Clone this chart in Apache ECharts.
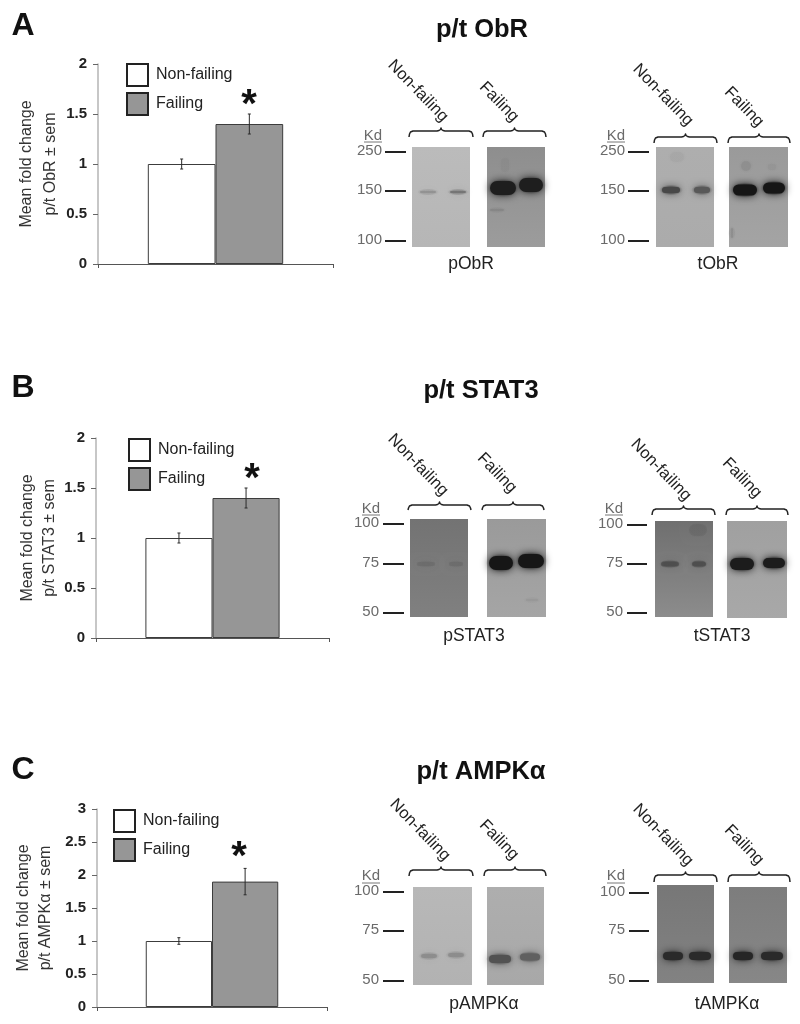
<!DOCTYPE html>
<html><head><meta charset="utf-8">
<style>html,body{margin:0;padding:0;background:#fff}#c{width:800px;height:1024px}</style>
<script src="https://cdn.jsdelivr.net/npm/echarts@6/dist/echarts.min.js"></script>
</head><body><div id="c"></div>
<script>
const groups = ['Non-failing', 'Failing'];
const meansA = [1, 1.4];
const semA = [0.05, 0.1];
const meansB = [1, 1.4];
const semB = [0.05, 0.1];
const meansC = [1, 1.9];
const semC = [0.05, 0.2];
const maxAB = 2;
const maxC = 3;
const titles = ['p/t ObR', 'p/t STAT3', 'p/t AMPK\u03b1'];
const letters = ['A', 'B', 'C'];
const yNames = ['Mean fold change\np/t ObR \u00b1 sem', 'Mean fold change\np/t STAT3 \u00b1 sem', 'Mean fold change\np/t AMPK\u03b1 \u00b1 sem'];
const kdA = ['250', '150', '100'];
const kdBC = ['100', '75', '50'];
const blotNames = ['pObR', 'tObR', 'pSTAT3', 'tSTAT3', 'pAMPK\u03b1', 'tAMPK\u03b1'];

const FONT = '"Liberation Sans", Arial, sans-serif';
const panels = [
  {grid:{left:98,top:64,width:235,height:200,outerBoundsMode:'none'},m:meansA,s:semA,max:maxAB,gap:32,lh:24,legend:{left:126,top:63},title:[482,30],letter:[23,26],star:[249,106]},
  {grid:{left:96,top:438,width:233,height:200,outerBoundsMode:'none'},m:meansB,s:semB,max:maxAB,gap:27,lh:22,legend:{left:128,top:438},title:[481,391],letter:[23,388],star:[252,480]},
  {grid:{left:97,top:809,width:230,height:198,outerBoundsMode:'none'},m:meansC,s:semC,max:maxC,gap:40,lh:22,legend:{left:113,top:809},title:[481,772],letter:[23,770],star:[239,858]}
];

// Western-blot panels: images in the source, painted here as shaded rectangles with soft bands.
const blots = [
 {name:0,labelAt:[471,264],kd:kdA,kdX:382,dashX:[385,406],kdY:[152,191,241],kdTitleY:136,ulY:142,ulX:[364,382],
  nf:[418,91],f:[499,102],braces:[[409,473,128,137],[483,546,128,137]],
  rects:[[412,470,147,247,'#bbbbbb','#b6b6b6'],[487,545,147,247,'#8e8e8e','#9c9c9c']],
  bands:[[428,192,8,1,'rgba(130,130,130,.5)'],[458,192,8,1,'rgba(100,100,100,.6)'],[503,188,13,7,'#1e1e1e'],[531,185,12,7,'#1e1e1e'],
         [505,165,4,7,'rgba(120,120,120,.12)'],[497,210,7,1,'rgba(100,100,100,.2)']]},
 {name:1,labelAt:[718,264],kd:kdA,kdX:625,dashX:[628,649],kdY:[152,191,241],kdTitleY:136,ulY:142,ulX:[607,625],
  nf:[663,95],f:[744,107],braces:[[654,717,134,143],[728,790,134,143]],
  rects:[[656,714,147,247,'#aeaeae','#ababab'],[729,788,147,247,'#9a9a9a','#a4a4a4']],
  bands:[[671,190,9,3,'#484848'],[702,190,8,3,'#585858'],[745,190,12,5.5,'#161616'],[774,188,11,5.5,'#161616'],
         [746,166,5,5,'rgba(110,110,110,.15)'],[772,167,4,3,'rgba(120,120,120,.1)'],[677,157,7,5,'rgba(140,140,140,.1)'],[732,233,1,5,'rgba(100,100,100,.2)']]},
 {name:2,labelAt:[474,636],kd:kdBC,kdX:379,dashX:[383,404],kdY:[524,564,613],kdTitleY:509,ulY:515,ulX:[362,380],
  nf:[418,465],f:[497,473],braces:[[408,471,502,510],[482,544,502,510]],
  rects:[[410,468,519,617,'#737373','#808080'],[487,546,519,617,'#9a9a9a','#a5a5a5']],
  bands:[[426,564,9,2,'rgba(95,95,95,.3)'],[456,564,7,2,'rgba(95,95,95,.28)'],[501,563,12,7,'#161616'],[531,561,13,7,'#161616'],[532,600,6,1,'rgba(130,130,130,.2)']]},
 {name:3,labelAt:[722,636],kd:kdBC,kdX:623,dashX:[627,647],kdY:[525,564,613],kdTitleY:509,ulY:515,ulX:[605,623],
  nf:[661,470],f:[742,478],braces:[[652,715,506,515],[726,788,506,515]],
  rects:[[655,713,521,617,'#6f6f6f','#8c8c8c'],[727,787,521,618,'#a0a0a0','#a8a8a8']],
  bands:[[670,564,9,2.5,'rgba(55,55,55,.45)'],[699,564,7,2.5,'rgba(55,55,55,.45)'],[742,564,12,6,'#1c1c1c'],[774,563,11,5,'#1c1c1c'],[698,530,9,6,'rgba(70,70,70,.1)']]},
 {name:4,labelAt:[484,1004],kd:kdBC,kdX:379,dashX:[383,404],kdY:[892,931,981],kdTitleY:876,ulY:883,ulX:[362,380],
  nf:[420,830],f:[499,840],braces:[[409,473,867,876],[484,546,867,876]],
  rects:[[413,472,887,985,'#b8b8b8','#b2b2b2'],[487,544,887,985,'#aeaeae','#a8a8a8']],
  bands:[[429,956,8,2,'rgba(125,125,125,.5)'],[456,955,8,2,'rgba(125,125,125,.5)'],[500,959,11,4,'#525252'],[530,957,10,3.5,'#606060']]},
 {name:5,labelAt:[727,1004],kd:kdBC,kdX:625,dashX:[629,649],kdY:[893,931,981],kdTitleY:876,ulY:883,ulX:[607,625],
  nf:[663,835],f:[744,845],braces:[[654,717,872,882],[728,790,872,882]],
  rects:[[657,714,885,983,'#777777','#828282'],[729,787,887,983,'#7d7d7d','#878787']],
  bands:[[673,956,10,4,'#2a2a2a'],[700,956,11,4,'#2a2a2a'],[743,956,10,4,'#262626'],[772,956,11,4,'#2a2a2a']]}
];

const g = [];
function text(x,y,t,o){g.push({type:'text',x,y,rotation:o.rot||0,silent:true,z:10,style:{text:t,fill:o.c||'#222',font:`${o.w||'normal'} ${o.s}px ${FONT}`,align:o.a||'center',verticalAlign:'middle'}});}
blots.forEach(b=>{
  b.rects.forEach(r=>g.push({type:'rect',silent:true,z:1,shape:{x:r[0],y:r[2],width:r[1]-r[0],height:r[3]-r[2]},
    style:{fill:{type:'linear',x:0,y:0,x2:0,y2:1,colorStops:[{offset:0,color:r[4]},{offset:1,color:r[5]}]}}}));
  b.bands.forEach(k=>{
    const ry=k[3]+2.5, rx=k[2]+3;
    g.push({type:'circle',silent:true,z:2,x:k[0],y:k[1],scaleX:rx/ry,scaleY:1,shape:{cx:0,cy:0,r:ry},
      style:{opacity:.75,fill:{type:'radial',x:.5,y:.5,r:.5,colorStops:[{offset:0,color:k[4]},{offset:.6,color:k[4]},{offset:1,color:'rgba(128,128,128,0)'}]}}});
    g.push({type:'rect',silent:true,z:2,shape:{x:k[0]-k[2],y:k[1]-k[3],width:2*k[2],height:2*k[3],r:k[3]},
      style:{fill:k[4],shadowColor:k[4],shadowBlur:8}});
  });
  b.kdY.forEach((y,i)=>{
    g.push({type:'line',silent:true,z:3,shape:{x1:b.dashX[0],y1:y,x2:b.dashX[1],y2:y},style:{stroke:'#222',lineWidth:2}});
    text(b.kdX,y-1,b.kd[i],{s:15,a:'right',c:'#6a6a6a'});
  });
  text(b.ulX[1],b.kdTitleY,'Kd',{s:15,a:'right',c:'#6a6a6a'});
  g.push({type:'line',silent:true,z:3,shape:{x1:b.ulX[0],y1:b.ulY,x2:b.ulX[1],y2:b.ulY},style:{stroke:'#777',lineWidth:1}});
  b.braces.forEach(q=>{
    const [x0,x1,y0,y1]=q, mid=(x0+x1)/2, ym=y0+3;
    g.push({type:'polyline',silent:true,z:3,shape:{points:[[x0,y1],[x0+.5,ym+3],[x0+1.5,ym+1],[x0+4,ym],[mid-4,ym],[mid-2,ym-.5],[mid-.5,ym-1.5],[mid,y0],[mid+.5,ym-1.5],[mid+2,ym-.5],[mid+4,ym],[x1-4,ym],[x1-1.5,ym+1],[x1-.5,ym+3],[x1,y1]]},
      style:{stroke:'#222',lineWidth:1.5,fill:null,lineJoin:'round'}});
  });
  text(b.nf[0],b.nf[1],groups[0],{s:16.5,rot:-Math.PI/4*1.02});
  text(b.f[0],b.f[1],groups[1],{s:16.5,rot:-Math.PI/4*1.02});
  text(b.labelAt[0],b.labelAt[1],blotNames[b.name],{s:17.5,c:'#222'});
});

const option = {animation:false,backgroundColor:'#fff',grid:[],xAxis:[],yAxis:[],series:[],legend:[],graphic:{elements:g}};
const BW = 0.288;
panels.forEach((p,i)=>{
  option.grid.push(p.grid);
  option.xAxis.push({type:'category',gridIndex:i,data:[''],axisLine:{lineStyle:{color:'#555',width:1}},axisTick:{show:true,length:4,lineStyle:{color:'#555'}},axisLabel:{show:false}});
  option.yAxis.push({type:'value',gridIndex:i,min:0,max:p.max,interval:.5,splitLine:{show:false},
    name:yNames[i],nameLocation:'middle',nameRotate:90,nameGap:p.gap,
    nameTextStyle:{fontFamily:FONT,fontSize:16,lineHeight:p.lh,color:'#333',align:'center'},
    axisLine:{show:true,lineStyle:{color:'#b4b4b4',width:1.5}},axisTick:{show:true,length:5,lineStyle:{color:'#666'}},
    axisLabel:{margin:11,padding:[6,0,0,0],fontFamily:FONT,fontWeight:'bold',fontSize:15,color:'#222'}});
  groups.forEach((n,j)=>{
    option.series.push({type:'bar',name:n,xAxisIndex:i,yAxisIndex:i,data:[p.m[j]],barWidth:(BW*100)+'%',barGap:0,
      itemStyle:{color:j?'#969696':'#ffffff',borderColor:'#3c3c3c',borderWidth:1}});
  });
  option.series.push({type:'custom',xAxisIndex:i,yAxisIndex:i,silent:true,z:5,
    data:p.m.map((v,j)=>[0,v-p.s[j],v+p.s[j],j]),
    encode:{x:0,y:[1,2]},
    renderItem:(params,api)=>{
      const lo=api.coord([api.value(0),api.value(1)]),hi=api.coord([api.value(0),api.value(2)]);
      const band=api.size([1,0])[0], x=lo[0]+(api.value(3)?1:-1)*band*BW/2, st={stroke:'#2a2a2a',lineWidth:1};
      return {type:'group',children:[
        {type:'line',shape:{x1:x,y1:lo[1],x2:x,y2:hi[1]},style:st},
        {type:'line',shape:{x1:x-1.5,y1:lo[1],x2:x+1.5,y2:lo[1]},style:st},
        {type:'line',shape:{x1:x-1.5,y1:hi[1],x2:x+1.5,y2:hi[1]},style:st}]};
    }});
  option.legend.push({orient:'vertical',left:p.legend.left,top:p.legend.top,padding:0,itemWidth:21,itemHeight:22,itemGap:5,selectedMode:false,
    data:groups.map(n=>({name:n,icon:'rect'})),
    itemStyle:{borderColor:'#222',borderWidth:2},
    textStyle:{fontFamily:FONT,fontSize:16,color:'#222',padding:[0,0,0,3]}});
  text(p.title[0],p.title[1],titles[i],{s:25.5,w:'bold',c:'#111'});
  text(p.letter[0],p.letter[1],letters[i],{s:32,w:'bold',c:'#111'});
  text(p.star[0],p.star[1],'*',{s:40,w:'bold',c:'#111'});
});
echarts.init(document.getElementById('c'),null,{renderer:'canvas',width:800,height:1024}).setOption(option);
</script></body></html>
